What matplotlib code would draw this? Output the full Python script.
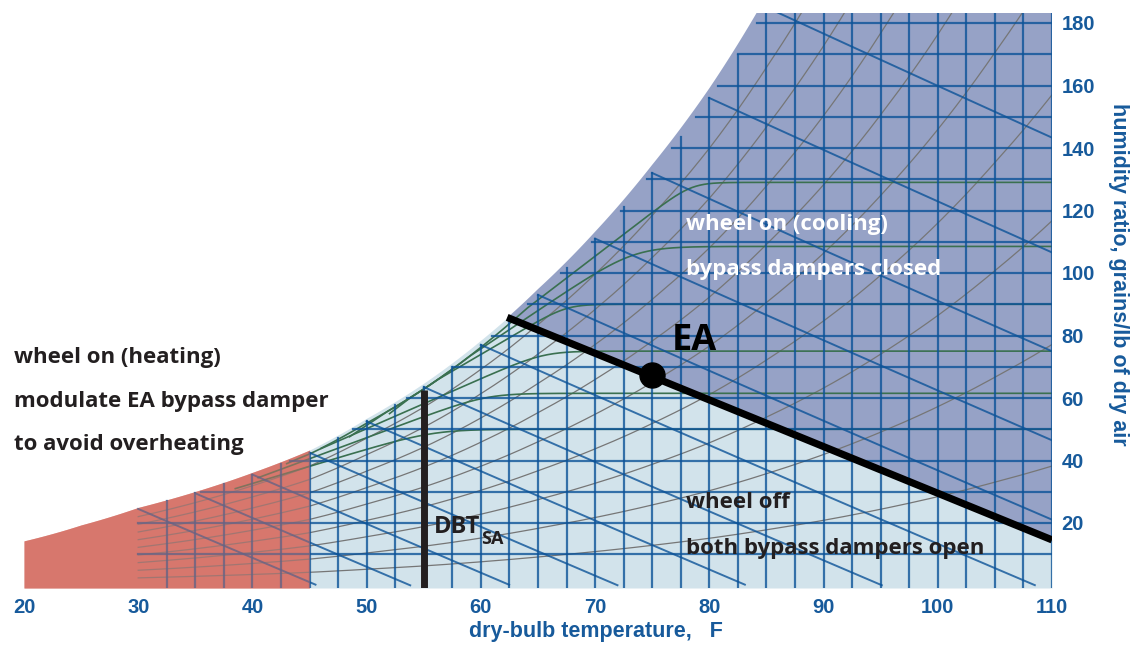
import matplotlib.pyplot as plt
import numpy as np

# saturation curve (dry-bulb F, grains/lb)
sat_temps = [20, 25, 30, 35, 40, 45, 50, 55, 60, 65, 70, 75, 80, 85, 90, 95, 100, 105, 110]
sat_grains = [14, 19, 24.5, 29.5, 35.5, 42.5, 52.5, 63.5, 77, 93, 111, 132, 156, 185, 218, 257, 302, 355, 415]

# chart grid
rh_levels = [0.1, 0.2, 0.3, 0.4, 0.5, 0.6, 0.7, 0.8, 0.9]
wetbulb_temps = [30, 35, 40, 45, 50, 55, 60, 65, 70, 75, 80, 85]
drybulb_lines = [32.5, 35, 37.5, 40, 42.5, 45, 47.5, 50, 52.5, 55, 57.5, 60, 62.5, 65, 67.5, 70,
                 72.5, 75, 77.5, 80, 82.5, 85, 87.5, 90, 92.5, 95, 97.5, 100, 102.5, 105, 107.5, 110]
humidity_lines = [10, 20, 30, 40, 50, 60, 70, 80, 90, 100, 110, 120, 130, 140, 150, 160, 170, 180]

# green curves: start point, rise (grains per F), level where they flatten, bend softness
green_start_t = [38.5, 40.5, 43, 46, 48.5, 52]
green_start_w = [31, 34.5, 39, 44, 47.6, 55]
green_rise = [1.1, 1.35, 1.6, 2.14, 2.45, 2.8]
green_level = [50, 61.5, 75, 90, 108.5, 129]
green_bend = [2, 2, 2, 2, 4, 2.5]

# exhaust air line and point, supply air dry-bulb
ea_line_t = [62.3, 110]
ea_line_w = [85.8, 14.6]
ea_t, ea_w = 75, 67.5
dbt_sa_t = 55
dbt_sa_top = 62.5

heat_limit = 45  # red zone upper temperature
x_ticks = [20, 30, 40, 50, 60, 70, 80, 90, 100, 110]
y_ticks = [20, 40, 60, 80, 100, 120, 140, 160, 180]

P = 14.696
W, H = 1132, 645
blue = '#0c5398'
label_blue = '#175a9b'
dark = '#231f20'
text_font = ['Open Sans', 'DejaVu Sans']


def wsat(t):
    return np.exp(np.interp(t, sat_temps, np.log(sat_grains)))


def w_rh(t, phi):
    ws = wsat(t)
    pws = P * ws / (4354.0 + ws)
    pw = phi * pws
    return 4354.0 * pw / (P - pw)


def w_wetbulb(t, twb):
    ws = wsat(twb)
    return ((1093 - 0.556 * twb) * ws - 0.24 * 7000 * (t - twb)) / (1093 + 0.444 * t - twb)


def soft_min(a, b, d):
    m = np.minimum(a, b)
    return m - d * np.log(np.exp(-(a - m) / d) + np.exp(-(b - m) / d))


def main():
    fig = plt.figure(figsize=(W / 100, H / 100), dpi=100)
    ax = fig.add_axes([24 / W, 1 - 588 / H, (1052 - 24) / W, (588 - 13) / H])
    ymin, ymax = -0.8, 183.2
    ax.set_xlim(20, 110)
    ax.set_ylim(ymin, ymax)

    T = np.linspace(20, 110, 721)
    edge = np.minimum(wsat(T) * 1.02, 400)
    slope = (ea_line_w[1] - ea_line_w[0]) / (ea_line_t[1] - ea_line_t[0])
    ea_ext = ea_line_w[0] + slope * (T - ea_line_t[0])

    # zones
    hot = T <= heat_limit
    ax.fill_between(T[hot], ymin, edge[hot], color='#d7776d', lw=0, zorder=1)
    cool = T >= heat_limit
    ax.fill_between(T[cool], ymin, np.minimum(edge, ea_ext)[cool], color='#d2e3eb', lw=0, zorder=1)
    ax.fill_between(T, ea_ext, edge, where=edge > ea_ext, color='#96a2c6', lw=0, zorder=1,
                    interpolate=True)

    # relative humidity curves
    Tg = T[T >= 30]
    for phi in rh_levels:
        ax.plot(Tg, w_rh(Tg, phi), color='#767676', lw=0.9, zorder=2)

    # green curves
    for t0, w0, k, lev, d in zip(green_start_t, green_start_w, green_rise, green_level, green_bend):
        tt = np.linspace(t0, 110, 500)
        ww = soft_min(w0 + k * (tt - t0), lev, d)
        ww = np.minimum(ww, wsat(tt) * 0.99)
        ax.plot(tt, ww, color='#3a7050', lw=1.2, zorder=2)

    # dry-bulb lines
    for t in drybulb_lines:
        ax.plot([t, t], [ymin, wsat(t)], color=blue, lw=1.6, alpha=0.8, zorder=2)

    # humidity ratio lines
    Tf = np.linspace(20, 110, 2000)
    for w in humidity_lines:
        t_start = max(30, np.interp(w, wsat(Tf), Tf))
        ax.plot([t_start, 110], [w, w], color=blue, lw=1.6, alpha=0.8, zorder=2)

    # wet-bulb lines
    for twb in wetbulb_temps:
        tt = np.linspace(twb, 110, 300)
        ww = w_wetbulb(tt, twb)
        keep = (ww >= 0) & (tt >= 30)
        ax.plot(tt[keep], ww[keep], color=blue, lw=1.4, alpha=0.8, zorder=2)

    # tint grid inside the heating zone
    ax.fill_between(T[hot], ymin, edge[hot], color='#d7776d', alpha=0.45, lw=0, zorder=3)

    # EA line and point, supply air dry-bulb
    ax.plot(ea_line_t, ea_line_w, color='black', lw=5.2, solid_capstyle='butt', zorder=5)
    ax.plot(ea_t, ea_w, 'o', color='black', ms=18, zorder=6)
    ax.plot([dbt_sa_t, dbt_sa_t], [ymin, dbt_sa_top], color=dark, lw=5, solid_capstyle='butt', zorder=5)

    # axes
    for sp in ax.spines.values():
        sp.set_visible(False)
    ax.set_xticks(x_ticks)
    ax.set_yticks(y_ticks)
    ax.yaxis.tick_right()
    ax.tick_params(length=0, labelsize=14.5, labelcolor=label_blue)
    ax.tick_params(axis='x', pad=7)
    ax.tick_params(axis='y', pad=7)
    for lab in ax.get_xticklabels() + ax.get_yticklabels():
        lab.set_fontweight('bold')
        lab.set_family('Liberation Sans')

    fig.text(596 / W, 1 - 632 / H, 'dry-bulb temperature,   F', ha='center', va='center',
             fontsize=15.5, fontweight='bold', color=label_blue, family='Liberation Sans')
    fig.text(1118 / W, 1 - 274 / H, 'humidity ratio, grains/lb of dry air', ha='center', va='center',
             rotation=270, fontsize=15.5, fontweight='bold', color=label_blue, family='Liberation Sans')

    # zone labels
    def label(x, y, s, color=dark, size=16, **kw):
        fig.text(x / W, 1 - y / H, s, ha='left', va='baseline', fontsize=size,
                 fontweight='bold', color=color, family=text_font, **kw)

    label(14, 363, 'wheel on (heating)')
    label(14, 407, 'modulate EA bypass damper')
    label(14, 450, 'to avoid overheating')
    label(686, 230, 'wheel on (cooling)', color='white')
    label(686, 275, 'bypass dampers closed', color='white')
    label(686, 508, 'wheel off')
    label(686, 554, 'both bypass dampers open')
    label(672, 350, 'EA', color='black', size=26)
    label(434, 533, 'DBT', size=17)
    label(481, 544, 'SA', size=13)

    fig.savefig('out.png', dpi=100)


if __name__ == "__main__":
    main()
